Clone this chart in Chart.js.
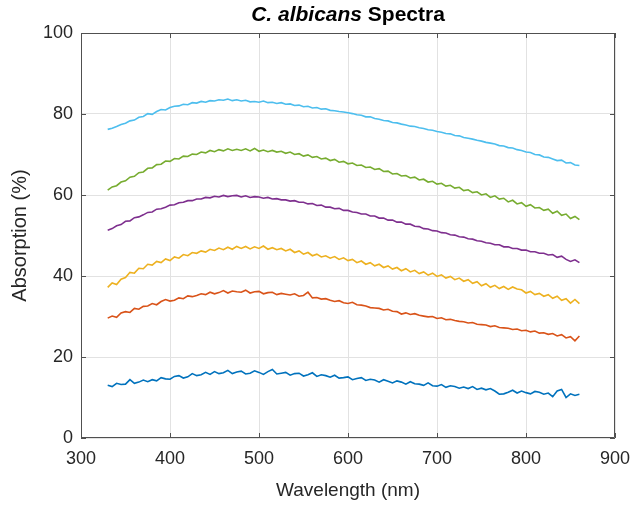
<!DOCTYPE html>
<html>
<head>
<meta charset="utf-8">
<script src="https://cdn.jsdelivr.net/npm/chart.js@4.4.1/dist/chart.umd.min.js"></script>
<style>
  html, body { margin: 0; padding: 0; background: #fff; }
  #wrap { width: 635px; height: 506px; }
</style>
</head>
<body>
<div id="wrap"><canvas id="spectra" width="635" height="506"></canvas></div>
<script>
// wavelengths sampled every 5 nm, 330..860
var wavelengths = [
  330, 335, 340, 345, 350, 355, 360, 365, 370, 375,
  380, 385, 390, 395, 400, 405, 410, 415, 420, 425,
  430, 435, 440, 445, 450, 455, 460, 465, 470, 475,
  480, 485, 490, 495, 500, 505, 510, 515, 520, 525,
  530, 535, 540, 545, 550, 555, 560, 565, 570, 575,
  580, 585, 590, 595, 600, 605, 610, 615, 620, 625,
  630, 635, 640, 645, 650, 655, 660, 665, 670, 675,
  680, 685, 690, 695, 700, 705, 710, 715, 720, 725,
  730, 735, 740, 745, 750, 755, 760, 765, 770, 775,
  780, 785, 790, 795, 800, 805, 810, 815, 820, 825,
  830, 835, 840, 845, 850, 855, 860
];

// absorption (%) per sample
var sample1 = [
  13.0, 12.7, 13.5, 13.2, 13.3, 14.4, 13.5, 13.8, 14.3, 13.9,
  14.4, 14.1, 14.9, 14.6, 14.5, 15.2, 15.4, 14.8, 15.1, 15.9,
  15.4, 15.6, 16.2, 15.7, 16.4, 15.9, 16.1, 16.7, 15.9, 16.3,
  16.5, 15.8, 16.0, 16.6, 16.2, 15.7, 16.4, 16.9, 15.8, 16.0,
  16.2, 15.5, 15.9, 16.0, 15.3, 15.6, 16.1, 15.2, 15.6, 15.4,
  15.0, 15.5, 14.8, 14.9, 15.1, 14.4, 14.7, 14.9, 14.2, 14.5,
  14.3, 13.8, 14.4, 14.0, 13.6, 14.1, 13.8, 13.3, 13.9, 13.4,
  13.3, 13.0, 13.6, 12.9, 12.8, 13.2, 12.5, 12.9, 12.7, 12.3,
  12.6, 12.2, 12.7, 12.0, 12.3, 11.9, 12.2, 11.6, 10.8, 10.9,
  11.3, 11.8, 11.1, 11.6, 11.2, 10.9, 11.5, 11.3, 10.8, 11.1,
  10.2, 11.6, 12.0, 10.0, 10.9, 10.5, 10.8
];
var sample2 = [
  29.6, 30.1, 29.8, 30.9, 31.2, 31.0, 32.0, 31.8, 32.5, 32.6,
  33.2, 32.9, 33.7, 34.2, 33.8, 34.0, 34.6, 34.4, 35.1, 34.9,
  35.2, 35.6, 35.4, 36.0, 35.6, 35.9, 36.4, 35.8, 36.3, 36.1,
  36.0, 36.5, 35.8, 36.1, 36.2, 35.6, 35.9, 36.0, 35.4, 35.7,
  35.5, 35.3, 35.6, 35.0, 35.2, 36.0, 34.6, 34.7, 34.3, 34.4,
  34.0, 33.7, 33.9, 33.4, 33.2, 33.5, 32.9, 32.8, 32.6, 32.2,
  32.1, 32.0, 31.6, 31.8, 31.3, 31.2, 30.6, 30.9, 30.5, 30.7,
  30.3, 30.1, 29.9, 30.0, 29.5, 29.7, 29.2, 29.3, 29.0, 28.8,
  28.7, 28.4, 28.5, 28.1, 28.0, 27.9, 27.5, 27.7, 27.3, 27.2,
  27.1, 26.8, 26.9, 26.5, 26.6, 26.2, 26.4, 25.9, 26.0, 25.6,
  25.8, 25.2, 25.5, 24.7, 25.0, 24.0, 25.2
];
var sample3 = [
  37.2, 38.3, 37.9, 39.2, 39.6, 40.9, 40.7, 41.9, 41.8, 42.9,
  42.7, 43.6, 43.3, 44.2, 43.8, 44.7, 44.4, 45.3, 45.0, 45.8,
  45.6, 46.2, 45.9, 46.6, 46.3, 46.9, 46.5, 47.1, 46.6, 47.3,
  46.8, 47.3, 46.7, 47.2, 46.8, 47.4, 46.6, 47.0, 46.5, 46.8,
  46.2, 46.6, 45.8, 46.2, 45.4, 45.8, 45.0, 45.4, 44.7, 45.0,
  44.4, 44.8, 44.1, 44.5, 43.8, 44.1, 43.3, 43.7, 42.9, 43.3,
  42.5, 42.9, 42.1, 42.5, 41.7, 42.1, 41.3, 41.8, 41.0, 41.4,
  40.6, 41.0, 40.2, 40.7, 39.9, 40.3, 39.5, 39.9, 39.1, 39.5,
  38.7, 39.1, 38.2, 38.6, 37.6, 38.1, 37.2, 37.7, 36.9, 37.4,
  36.7, 37.3, 36.8, 36.6, 35.8, 36.2, 35.4, 35.7, 35.0, 35.4,
  34.5, 35.0, 34.0, 34.4, 33.3, 34.2, 33.2
];
var sample4 = [
  51.3, 51.7, 52.4, 52.7, 53.5, 53.6, 54.4, 54.6, 55.1, 55.7,
  55.8, 56.5, 56.6, 57.0, 57.5, 57.6, 58.1, 58.2, 58.6, 58.6,
  59.0, 59.0, 59.4, 59.3, 59.7, 59.5, 59.9, 59.6, 59.8, 59.9,
  59.5, 59.8, 59.4, 59.6, 59.5, 59.2, 59.4, 59.0, 59.1, 58.8,
  58.8, 58.5, 58.6, 58.2, 58.2, 57.8, 57.9, 57.4, 57.5, 57.0,
  57.0, 56.6, 56.7, 56.2, 56.2, 55.8, 55.7, 55.3, 55.3, 54.8,
  54.8, 54.3, 54.3, 53.8, 53.8, 53.3, 53.3, 52.8, 52.8, 52.3,
  52.2, 51.7, 51.6, 51.2, 51.1, 50.7, 50.6, 50.2, 50.1, 49.7,
  49.6, 49.2, 49.1, 48.7, 48.6, 48.2, 48.1, 47.7, 47.7, 47.2,
  47.2, 46.8, 46.8, 46.4, 46.4, 46.0, 46.0, 45.6, 45.6, 45.2,
  45.3, 44.6, 44.9, 44.1, 43.6, 44.0, 43.3
];
var sample5 = [
  61.2, 62.0, 62.3, 63.2, 63.5, 64.4, 64.6, 65.5, 65.7, 66.6,
  66.7, 67.5, 67.6, 68.4, 68.3, 69.0, 68.9, 69.6, 69.5, 70.1,
  70.0, 70.6, 70.4, 71.0, 70.7, 71.2, 70.9, 71.4, 71.0, 71.3,
  71.0, 71.4, 70.9, 71.5, 70.8, 71.1, 70.7, 71.0, 70.6, 70.8,
  70.3, 70.6, 70.0, 70.2, 69.6, 69.9, 69.3, 69.5, 68.9, 69.1,
  68.5, 68.8, 68.1, 68.3, 67.7, 67.9, 67.3, 67.4, 66.8, 66.9,
  66.3, 66.5, 65.8, 65.9, 65.2, 65.3, 64.7, 64.8, 64.2, 64.4,
  63.7, 63.9, 63.2, 63.4, 62.7, 62.9, 62.2, 62.4, 61.7, 61.9,
  61.1, 61.3, 60.6, 60.8, 60.0, 60.3, 59.4, 59.8, 59.0, 59.2,
  58.3, 58.7, 57.8, 58.1, 57.2, 57.6, 56.8, 56.9, 56.2, 56.5,
  55.5, 56.0, 55.0, 55.3, 54.2, 54.7, 53.9
];
var sample6 = [
  76.2, 76.5, 76.9, 77.4, 77.7, 78.3, 78.5, 79.2, 79.4, 80.1,
  79.9, 80.6, 81.1, 81.0, 81.6, 81.9, 82.0, 82.4, 82.3, 82.8,
  82.7, 83.1, 82.9, 83.3, 83.2, 83.5, 83.4, 83.7, 83.3, 83.5,
  83.2, 83.4, 83.0, 83.1, 82.9, 83.2, 82.8, 82.9, 82.6, 82.8,
  82.4, 82.5, 82.1, 82.2, 81.8, 81.9, 81.5, 81.6, 81.2, 81.3,
  80.9, 80.8, 80.6, 80.5, 80.3, 80.1, 79.8, 79.7, 79.3, 79.3,
  78.9, 78.7, 78.4, 78.3, 77.9, 77.8, 77.5, 77.3, 77.0, 76.9,
  76.6, 76.4, 76.1, 76.0, 75.7, 75.5, 75.2, 75.1, 74.7, 74.6,
  74.2, 74.0, 73.8, 73.5, 73.3, 73.0, 72.8, 72.6, 72.2, 72.1,
  71.7, 71.6, 71.2, 71.0, 70.6, 70.5, 70.0, 69.9, 69.4, 69.3,
  68.9, 68.5, 68.6, 67.9, 68.0, 67.4, 67.3
];

var xTicks = [300, 400, 500, 600, 700, 800, 900];
var yTicks = [0, 20, 40, 60, 80, 100];

var allSamples = [sample1, sample2, sample3, sample4, sample5, sample6];
// matlab default line colours
var colors = ["#0072BD", "#D95319", "#EDB120", "#7E2F8E", "#77AC30", "#4DBEEE"];

var FONT = "'Liberation Sans', Arial, Helvetica, sans-serif";
var BOX = "#505050";

function toPoints(vals) {
    return vals.map(function (v, i) { return { x: wavelengths[i], y: v }; });
}

var datasets = allSamples.map(function (s, i) {
    return {
        data: toPoints(s),
        borderColor: colors[i],
        borderWidth: 1.6,
        pointRadius: 0,
        tension: 0,
        fill: false
    };
});

// white background + box with inward ticks like matlab
var boxPlugin = {
    id: "box",
    beforeDraw: function (chart) {
        var ctx = chart.ctx;
        ctx.save();
        ctx.fillStyle = "#fff";
        ctx.fillRect(0, 0, chart.width, chart.height);
        ctx.restore();
    },
    afterDraw: function (chart) {
        var ctx = chart.ctx, a = chart.chartArea;
        var xs = chart.scales.x, ys = chart.scales.y;
        ctx.save();
        ctx.strokeStyle = BOX;
        ctx.lineWidth = 1;
        ctx.beginPath();
        ctx.rect(a.left + 0.5, a.top + 0.5, a.right - a.left - 1, a.bottom - a.top - 1);
        xTicks.forEach(function (t) {
            var px = Math.round(xs.getPixelForValue(t)) + 0.5;
            ctx.moveTo(px, a.bottom); ctx.lineTo(px, a.bottom - 5);
            ctx.moveTo(px, a.top); ctx.lineTo(px, a.top + 5);
        });
        yTicks.forEach(function (t) {
            var py = Math.round(ys.getPixelForValue(t)) + 0.5;
            ctx.moveTo(a.left, py); ctx.lineTo(a.left + 5, py);
            ctx.moveTo(a.right, py); ctx.lineTo(a.right - 5, py);
        });
        ctx.stroke();

        // title: italic species name + plain bold word
        var part1 = "C. albicans", part2 = " Spectra";
        ctx.fillStyle = "#000";
        ctx.textBaseline = "alphabetic";
        ctx.font = "italic bold 21px " + FONT;
        var w1 = ctx.measureText(part1).width;
        ctx.font = "bold 21px " + FONT;
        var w2 = ctx.measureText(part2).width;
        var cx = (a.left + a.right) / 2;
        var x0 = cx - (w1 + w2) / 2;
        ctx.font = "italic bold 21px " + FONT;
        ctx.fillText(part1, x0, 21);
        ctx.font = "bold 21px " + FONT;
        ctx.fillText(part2, x0 + w1, 21);
        ctx.restore();
    }
};

var chart = new Chart(document.getElementById("spectra"), {
    type: "line",
    data: { datasets: datasets },
    plugins: [boxPlugin],
    options: {
        responsive: false,
        animation: false,
        layout: { padding: { top: 33, right: 20, left: 0, bottom: 0 } },
        plugins: {
            legend: { display: false },
            tooltip: { enabled: false }
        },
        scales: {
            x: {
                type: "linear",
                min: 300,
                max: 900,
                afterBuildTicks: function (s) {
                    s.ticks = xTicks.map(function (v) { return { value: v }; });
                },
                afterFit: function (s) {
                    s.height = 68;
                    // keep the plot box at the same place as the figure
                    s.paddingLeft = 0;
                    s.paddingRight = 0;
                },
                grid: { color: "#e2e2e2", drawTicks: false },
                border: { display: false },
                ticks: {
                    padding: 10,
                    color: "#262626",
                    font: { family: FONT, size: 18 }
                },
                title: {
                    display: true,
                    text: "Wavelength (nm)",
                    color: "#262626",
                    font: { family: FONT, size: 19 },
                    padding: { top: 0, bottom: 4 }
                }
            },
            y: {
                min: 0,
                max: 100,
                afterBuildTicks: function (s) {
                    s.ticks = yTicks.map(function (v) { return { value: v }; });
                },
                afterFit: function (s) { s.width = 81; },
                grid: { color: "#e2e2e2", drawTicks: false },
                border: { display: false },
                ticks: {
                    padding: 8,
                    color: "#262626",
                    font: { family: FONT, size: 18 }
                },
                title: {
                    display: true,
                    text: "Absorption (%)",
                    color: "#262626",
                    font: { family: FONT, size: 20 },
                    padding: { top: 8, bottom: 0 }
                }
            }
        }
    }
});
</script>
</body>
</html>
